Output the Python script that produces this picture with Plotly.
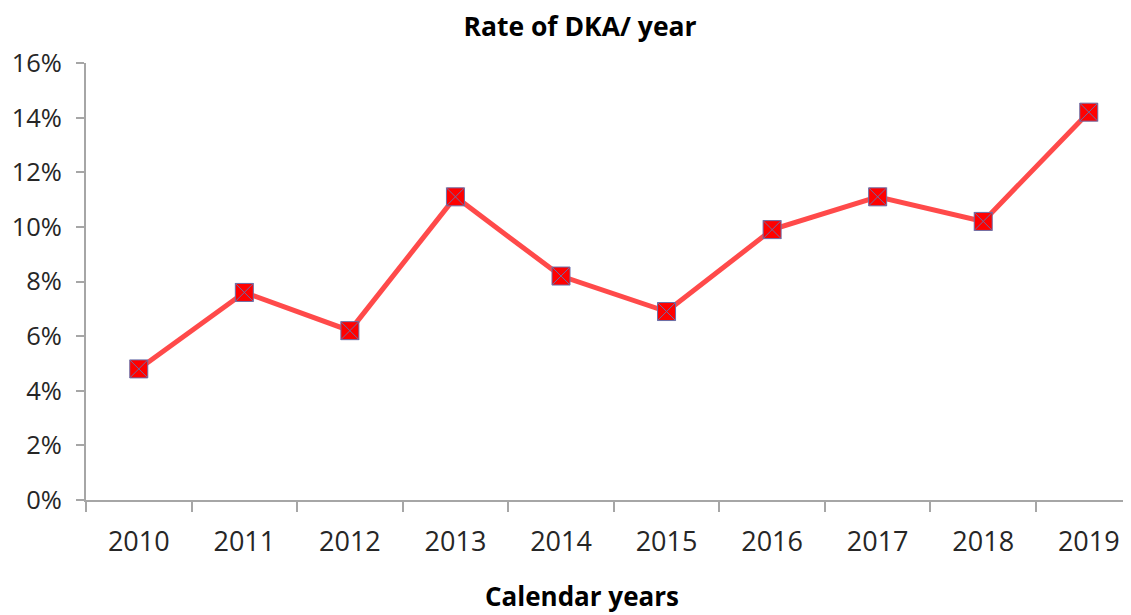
import plotly.graph_objects as go

years = ["2010", "2011", "2012", "2013", "2014", "2015", "2016", "2017", "2018", "2019"]
rates = [0.048, 0.076, 0.062, 0.111, 0.082, 0.069, 0.099, 0.111, 0.102, 0.142]
y_ticks = [0, 0.02, 0.04, 0.06, 0.08, 0.10, 0.12, 0.14, 0.16]

# page body has an 8px margin; figure sized to fill the rest of the window
W, H = 1123, 607
OFF = 8

fig = go.Figure()
fig.add_trace(go.Scatter(
    x=years, y=rates, mode="lines+markers",
    line=dict(color="rgba(255,64,64,0.95)", width=5),
    marker=dict(symbol="square-x", size=18, color="#ff0000",
                line=dict(color="#6a6fa8", width=1)),
    showlegend=False,
))

font = "Open Sans"
fig.update_layout(
    width=W, height=H,
    margin=dict(l=86 - OFF, r=0, t=63 - OFF, b=H - (500 - OFF)),
    paper_bgcolor="white", plot_bgcolor="white",
    title=dict(text="<b>Rate of DKA/ year</b>", x=(580 - OFF) / W, xref="container",
               xanchor="center", y=1 - (27 - OFF) / H, yref="container", yanchor="middle",
               font=dict(family=font, size=26.5, color="#000")),
    xaxis=dict(type="category", range=[-0.5, 9.4], showgrid=False, automargin=False,
               showline=True, linecolor="#a6a6a6", linewidth=2,
               ticks="outside", ticklen=10, tickcolor="#a6a6a6", tickwidth=2,
               tickson="boundaries", ticklabelstandoff=17,
               tickfont=dict(family=font, size=27, color="#262626")),
    yaxis=dict(range=[0, 0.16], tickvals=y_ticks, tickformat=".0%", showgrid=False,
               automargin=False,
               zeroline=False, showline=True, linecolor="#a6a6a6", linewidth=2,
               ticks="outside", ticklen=8, tickcolor="#a6a6a6", tickwidth=2,
               ticklabelstandoff=9,
               tickfont=dict(family=font, size=25.5, color="#262626")),
    annotations=[dict(text="<b>Calendar years</b>",
                      xref="x domain", yref="y domain",
                      x=(582 - 86) / (1131 - 86), y=(500 - 596) / (500 - 63),
                      showarrow=False, xanchor="center", yanchor="middle",
                      font=dict(family=font, size=26, color="#000"))],
)

fig.write_html("out.html")
